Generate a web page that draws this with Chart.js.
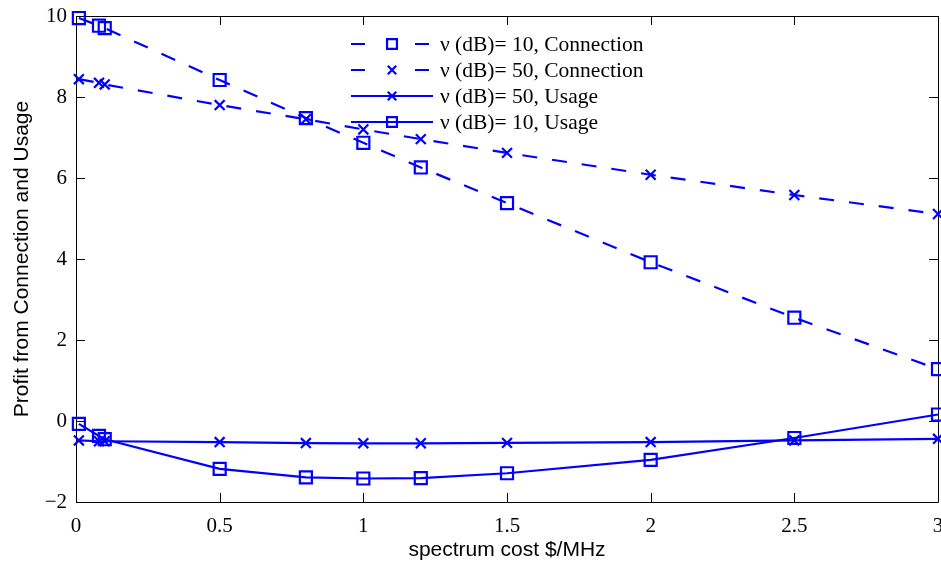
<!DOCTYPE html>
<html>
<head>
<meta charset="utf-8">
<script src="https://cdn.jsdelivr.net/npm/chart.js@4.4.1/dist/chart.umd.min.js"></script>
<style>
  html, body { margin: 0; padding: 0; background: #fff; overflow: hidden; }
  /* slightly wider than the window so the last x label runs off the edge */
  #wrap { position: relative; width: 952px; height: 563px; }
</style>
</head>
<body>
<div id="wrap"><canvas id="c"></canvas></div>
<script>
// Spectrum cost ($/MHz) sampled along the x axis
const spectrumCost = [0.01, 0.08, 0.1, 0.5, 0.8, 1, 1.2, 1.5, 2, 2.5, 3];

// Profit curves
const connection10 = [9.95, 9.76, 9.70, 8.42, 7.48, 6.87, 6.26, 5.38, 3.92, 2.55, 1.28];
const connection50 = [8.44, 8.35, 8.31, 7.80, 7.45, 7.20, 6.96, 6.62, 6.08, 5.58, 5.11];
const usage50      = [-0.48, -0.50, -0.50, -0.52, -0.545, -0.55, -0.55, -0.54, -0.52, -0.48, -0.44];
const usage10      = [-0.07, -0.37, -0.45, -1.18, -1.39, -1.42, -1.41, -1.29, -0.96, -0.42, 0.16];

const seriesLabels = [
  'ν (dB)= 10, Connection',
  'ν (dB)= 50, Connection',
  'ν (dB)= 50, Usage',
  'ν (dB)= 10, Usage'
];

// Tick labels
const xTicks = [0, 0.5, 1, 1.5, 2, 2.5, 3];
const yTicks = [-2, 0, 2, 4, 6, 8, 10];

const BLUE = '#0000ff';
const DASH = [15, 15];

function pts(ys) { return spectrumCost.map((x, i) => ({ x: x, y: ys[i] })); }

function series(label, ys, style, dashed) {
  return {
    label: label,
    data: pts(ys),
    borderColor: BLUE,
    backgroundColor: 'rgba(0,0,0,0)',
    borderWidth: 2.2,
    borderDash: dashed ? DASH : [],
    pointStyle: style,
    pointRadius: style === 'rect' ? 8.5 : 7,
    pointBorderWidth: 2.2,
    pointBorderColor: BLUE,
    pointBackgroundColor: 'rgba(0,0,0,0)',
    tension: 0,
    clip: false
  };
}

// Box around the plot with inward ticks on all four sides
const frame = {
  id: 'frame',
  beforeDatasetsDraw(chart) {
    const { ctx, chartArea: a, scales: { x, y } } = chart;
    const L = 9;
    ctx.save();
    ctx.strokeStyle = '#000';
    ctx.lineWidth = 1;
    ctx.beginPath();
    ctx.rect(Math.round(a.left) + 0.5, Math.round(a.top) + 0.5,
             Math.round(a.right - a.left), Math.round(a.bottom - a.top));
    xTicks.forEach(v => {
      const px = Math.round(x.getPixelForValue(v)) + 0.5;
      ctx.moveTo(px, a.bottom); ctx.lineTo(px, a.bottom - L);
      ctx.moveTo(px, a.top);    ctx.lineTo(px, a.top + L);
    });
    yTicks.forEach(v => {
      const py = Math.round(y.getPixelForValue(v)) + 0.5;
      ctx.moveTo(a.left, py);  ctx.lineTo(a.left + L, py);
      ctx.moveTo(a.right, py); ctx.lineTo(a.right - L, py);
    });
    ctx.stroke();
    ctx.restore();
  }
};

// Legend with line sample, marker and label for each series
const sampleLegend = {
  id: 'sampleLegend',
  afterDraw(chart) {
    const { ctx } = chart;
    const x0 = 351, x1 = 433, mx = 392, tx = 440;
    const rows = [44, 70, 96, 122];
    ctx.save();
    chart.data.datasets.forEach((ds, i) => {
      const yy = rows[i];
      ctx.strokeStyle = ds.borderColor;
      ctx.lineWidth = ds.borderWidth;
      ctx.setLineDash(ds.borderDash.length ? [14, 50] : []);
      ctx.beginPath();
      ctx.moveTo(x0, yy); ctx.lineTo(x1, yy);
      ctx.stroke();
      ctx.setLineDash([]);
      ctx.fillStyle = 'rgba(0,0,0,0)';
      Chart.helpers.drawPoint(ctx, {
        pointStyle: ds.pointStyle,
        rotation: 0,
        radius: ds.pointStyle === 'rect' ? 7 : 6,
        borderWidth: 2.2
      }, mx, yy);
      ctx.fillStyle = '#000';
      ctx.font = '21.5px "Liberation Serif", "Times New Roman", serif';
      ctx.textBaseline = 'middle';
      ctx.textAlign = 'left';
      ctx.fillText(ds.label, tx, yy + 1);
    });
    ctx.restore();
  }
};

const tickFont = { family: '"Liberation Serif", "Times New Roman", serif', size: 21 };
const titleFont = { family: '"Liberation Sans", Arial, sans-serif', size: 21 };

new Chart(document.getElementById('c'), {
  type: 'line',
  data: {
    datasets: [
      series(seriesLabels[0], connection10, 'rect', true),
      series(seriesLabels[1], connection50, 'crossRot', true),
      series(seriesLabels[2], usage50, 'crossRot', false),
      series(seriesLabels[3], usage10, 'rect', false)
    ]
  },
  options: {
    responsive: true,
    maintainAspectRatio: false,
    animation: false,
    layout: { padding: { top: 16, right: 14, left: 0, bottom: 0 } },
    plugins: { legend: { display: false }, tooltip: { enabled: false } },
    scales: {
      x: {
        type: 'linear',
        min: 0, max: 3,
        afterBuildTicks(s) { s.ticks = xTicks.map(v => ({ value: v })); },
        afterFit(s) { s.height = 61; },
        grid: { display: false },
        border: { display: false },
        ticks: { color: '#000', font: tickFont, padding: 4, maxRotation: 0, autoSkip: false,
                 callback: v => String(v) },
        title: { display: true, text: 'spectrum cost $/MHz', color: '#000', font: titleFont,
                 padding: { top: 0, bottom: 0 } }
      },
      y: {
        type: 'linear',
        min: -2, max: 10,
        afterBuildTicks(s) { s.ticks = yTicks.map(v => ({ value: v })); },
        afterFit(s) { s.width = 76; s.paddingTop = 0; s.paddingBottom = 0; },
        grid: { display: false, drawTicks: false },
        border: { display: false },
        ticks: { color: '#000', font: Object.assign({ lineHeight: 1 }, tickFont), padding: 9,
                 callback: v => String(v).replace('-', '\u2212') },
        title: { display: true, text: 'Profit from Connection and Usage', color: '#000', font: titleFont,
                 padding: 10 }
      }
    }
  },
  plugins: [frame, sampleLegend]
});
</script>
</body>
</html>
